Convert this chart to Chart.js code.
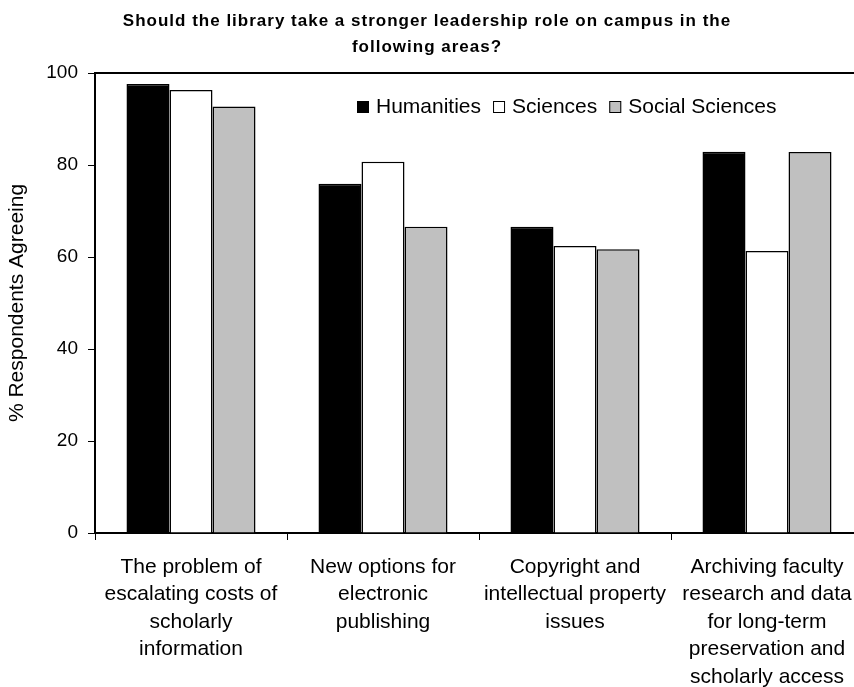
<!DOCTYPE html>
<html>
<head>
<meta charset="utf-8">
<script src="https://cdn.jsdelivr.net/npm/chart.js@4/dist/chart.umd.min.js"></script>
<style>
  html, body { margin: 0; padding: 0; background: #fff; overflow: hidden; }
  #wrap { width: 880px; height: 687px; }
</style>
</head>
<body>
<div id="wrap"><canvas id="libChart" width="880" height="687"></canvas></div>
<script>
// Datos del gráfico
const categories = [
    ['The problem of', 'escalating costs of', 'scholarly', 'information'],
    ['New options for', 'electronic', 'publishing'],
    ['Copyright and', 'intellectual property', 'issues'],
    ['Archiving faculty', 'research and data', 'for long-term', 'preservation and', 'scholarly access']
];
const seriesNames = ['Humanities', 'Sciences', 'Social Sciences'];
const humanities = [97.6, 75.9, 66.6, 82.9];
const sciences = [96.3, 80.7, 62.4, 61.3];
const socialSciences = [92.7, 66.6, 61.7, 82.8];
const yTicks = [0, 20, 40, 60, 80, 100];
const titleLines = ['Should the library take a stronger leadership role on campus in the', 'following areas?'];

const fontFamily = "'Liberation Sans', Arial, sans-serif";
const colors = ['#000000', '#ffffff', '#c0c0c0'];

// Título dibujado a mano
const titlePlugin = {
    id: 'titleText',
    afterDraw(chart) {
        const c = chart.ctx;
        c.save();
        c.fillStyle = '#000';
        c.font = 'bold 17px ' + fontFamily;
        c.letterSpacing = '1px';
        c.textAlign = 'center';
        c.textBaseline = 'middle';
        titleLines.forEach((line, i) => c.fillText(line, 427, 21 + i * 26));
        c.restore();
    }
};

// Leyenda dentro del área del gráfico + borde superior
const legendPlugin = {
    id: 'insideLegend',
    afterDraw(chart) {
        const c = chart.ctx;
        const area = chart.chartArea;
        c.save();
        c.lineWidth = 2;
        c.strokeStyle = '#000';
        c.beginPath();
        c.moveTo(area.left - 1, area.top);
        c.lineTo(area.right, area.top);
        c.stroke();

        c.font = '21px ' + fontFamily;
        c.textBaseline = 'middle';
        let x = 357;
        const y = 107;
        chart.data.datasets.forEach(ds => {
            c.fillStyle = ds.backgroundColor;
            c.fillRect(x, y - 6, 12, 12);
            c.lineWidth = 1;
            c.strokeRect(x + 0.5, y - 5.5, 11, 11);
            c.fillStyle = '#000';
            c.fillText(ds.label, x + 19, y);
            x += 19 + c.measureText(ds.label).width + 12;
        });
        c.restore();
    }
};

const ctx = document.getElementById('libChart').getContext('2d');
new Chart(ctx, {
    type: 'bar',
    data: {
        labels: categories,
        datasets: [humanities, sciences, socialSciences].map((vals, i) => ({
            label: seriesNames[i],
            data: vals,
            backgroundColor: colors[i],
            borderColor: '#000',
            borderWidth: 1.5,
            categoryPercentage: 0.672,
            barPercentage: 1
        }))
    },
    options: {
        responsive: false,
        animation: false,
        layout: { padding: { top: 73, right: 17, left: 0, bottom: 0 } },
        plugins: {
            legend: { display: false },
            title: { display: false },
            tooltip: { enabled: false }
        },
        scales: {
            x: {
                offset: true,
                afterFit: scale => { scale.height = 154; },
                grid: { drawOnChartArea: false, offset: true, tickLength: 7, color: '#000', lineWidth: 1 },
                border: { display: true, color: '#000', width: 2 },
                ticks: {
                    color: '#000',
                    font: { family: fontFamily, size: 21, lineHeight: 1.31 },
                    maxRotation: 0,
                    autoSkip: false,
                    padding: 13
                }
            },
            y: {
                min: 0,
                max: 100,
                afterFit: scale => { scale.width = 95; },
                afterBuildTicks: scale => { scale.ticks = yTicks.map(v => ({ value: v })); },
                grid: { drawOnChartArea: false, tickLength: 7, color: '#000', lineWidth: 1 },
                border: { display: true, color: '#000', width: 2 },
                ticks: {
                    color: '#000',
                    font: { family: fontFamily, size: 19 },
                    padding: 10
                },
                title: {
                    display: true,
                    text: '% Respondents Agreeing',
                    color: '#000',
                    font: { family: fontFamily, size: 21 },
                    padding: { top: 5, bottom: 0 }
                }
            }
        }
    },
    plugins: [titlePlugin, legendPlugin]
});
</script>
</body>
</html>
